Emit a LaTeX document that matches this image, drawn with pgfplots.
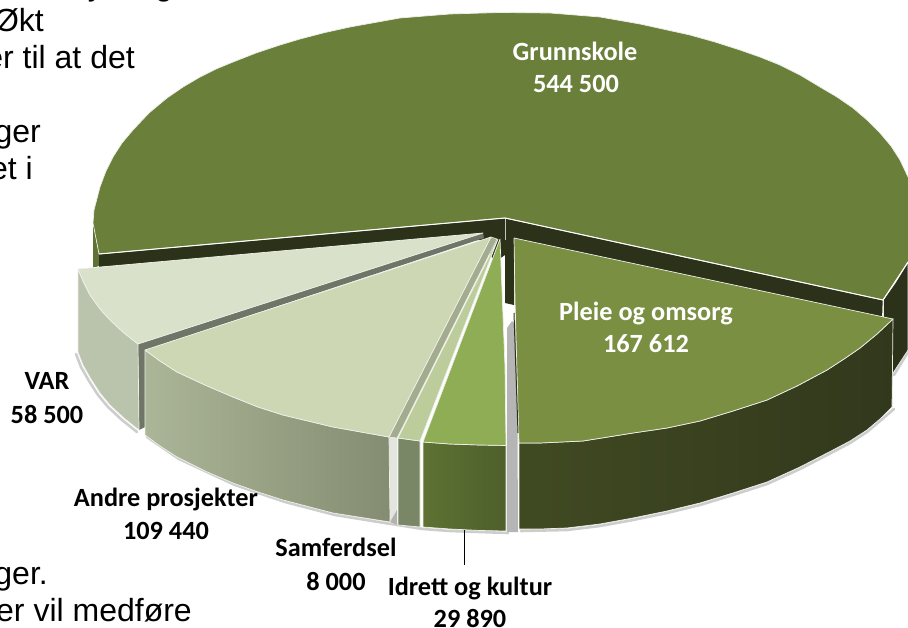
\documentclass[border=0pt]{standalone}
\usepackage{pgfplots}
\pgfplotsset{compat=1.18}
\usepackage{fontspec}
\setmainfont{Liberation Sans}
\newfontfamily\calfont{Carlito}
\definecolor{gtop}{HTML}{6A7F3A}
\definecolor{gside}{HTML}{5F7135}
\definecolor{dark}{HTML}{2C311A}
\definecolor{pltop}{HTML}{7A8F42}
\definecolor{plwall}{HTML}{32381C}
\definecolor{plwallb}{HTML}{404A22}
\definecolor{idtop}{HTML}{8FAD55}
\definecolor{idwalla}{HTML}{5D7233}
\definecolor{idwallb}{HTML}{4E5F2C}
\definecolor{satop}{HTML}{BCCD9B}
\definecolor{samwall}{HTML}{7A8766}
\definecolor{antop}{HTML}{CDD7B4}
\definecolor{anwalla}{HTML}{ABB597}
\definecolor{anwallb}{HTML}{848D71}
\definecolor{vatop}{HTML}{D9E1CA}
\definecolor{vawall}{HTML}{BAC3AC}
\definecolor{vacut}{HTML}{6F7667}
\definecolor{ancut}{HTML}{A3AC8F}
\definecolor{edge}{HTML}{EEF0E8}
\begin{document}
\begin{tikzpicture}[x=1pt,y=1pt,
  lab/.style={font=\calfont\bfseries\fontsize{26.3}{28}\selectfont,inner sep=0pt,anchor=base},
  txt/.style={font=\fontsize{32}{36}\selectfont,inner sep=0pt,anchor=base east,text=black},
  shadow/.style={draw=gray!65,line width=2.6pt,opacity=.6,line join=round,line cap=round},
  face/.style={fill=#1,draw=edge,line width=.7pt,line join=round}]
\path[use as bounding box,clip] (0,0) rectangle (908,628);
\begin{axis}[at={(0,0)},anchor=south west,scale only axis,width=908pt,height=628pt,
  xmin=0,xmax=908,ymin=0,ymax=628,y dir=reverse,hide axis,clip=false,no markers]
% shadows
\addplot[shadow] coordinates {(76,354)(81,367)(89,381)(98,395)(108,407)(122,420)(137,432)};
\addplot[shadow] coordinates {(147,437)(179,459)(235,485)(285,502)(335,515)(391,524)(423,529)(450,531)(480,532)(508,533)};
\addplot[shadow] coordinates {(521,531)(567,530)(600,526)(633,520)(667,513)(700,505)(733,495)(767,484)(800,469)(833,452)(850,443)(867,432)(880,421)(894,409)};
\addplot[shadow] coordinates {(894,375)(908,352)};
% vertical grey band behind the gap
\addplot[fill=gray!58,draw=none] coordinates {(507,328)(512,321)(517,326)(518,532)(507,532)(507,328)};
% Grunnskole side walls
\addplot[fill=gside,draw=none] coordinates {(93,223)(99,254)(99,266)(93,268)(93,223)};
\addplot[fill=dark,draw=none] coordinates {(99,254)(505,218)(883,300)(893,319)(893,340)(514,250)(514,305)(505,303)(505,255)(495,262)(480,240)(99,267)(99,254)};
\addplot[fill=dark,draw=edge,line width=.6pt] coordinates {(883,300)(895,283)(908,262)(908,350)(893,373)(880,385)(883,300)};
\addplot[draw=edge!60!gray,line width=.8pt] coordinates {(505,218)(505,240)};
% Grunnskole top
\addplot[face=gtop] coordinates {(99,254)(93,223)(94,210)(100,187)(106,171)(113,157)(122,143)(133,130)(149,113)(167,98)(183,87)(200,77)(216,69)(233,62)(256,53)(280,45)(300,39)(325,32.5)(350,27)(400,18)(450,14)(500,12.5)(550,13)(600,17)(640,24)(690,35)(715,42)(740,50)(760,57)(780,65)(800,75)(820,87)(837,97)(853,108)(867,120)(880,133)(891,146)(900,160)(908,177)(925,190)(925,250)(908,262)(895,283)(883,300)(505,218)(99,254)};
\addplot[draw=white,line width=1pt] coordinates {(505,218)(883,300)(908,262)};
\addplot[draw=white,line width=1pt] coordinates {(505,218)(99,254)};
% VAR
\addplot[fill=vacut,draw=none] coordinates {(138,344)(483,233)(484,238)(145,350)(145,427)(139,430)(138,344)};
\addplot[face=vawall] coordinates {(78,269)(83,281)(90,295)(100,309)(110,320)(124,333)(138,344)(139,430)(124,418)(110,405)(100,393)(91,379)(83,365)(78,352)(78,269)};
\addplot[face=vatop] coordinates {(78,269)(83,281)(90,295)(100,309)(110,320)(124,333)(138,344)(483,233)(78,269)};
% Andre prosjekter
\addplot[fill=ancut,draw=edge,line width=.5pt] coordinates {(491,237)(497,239)(397,438)(389,437)(491,237)};
\addplot[fill=edge!90!gray,draw=none] coordinates {(389,437)(397,438)(397,525)(389,522)(389,437)};
\addplot[fill=gray!60,draw=none] coordinates {(390,522)(397,510)(397,525)(390,522)};
\addplot[draw=edge,line width=.7pt,left color=anwalla,right color=anwallb] coordinates {(145,350)(160,361)(177,372)(205,385)(233,397)(258,407)(283,415)(333,427)(389,437)(390,522)(333,513)(283,500)(258,492)(233,483)(205,471)(177,457)(160,446)(145,435)(145,350)};
\addplot[face=antop] coordinates {(145,350)(160,361)(177,372)(205,385)(233,397)(258,407)(283,415)(333,427)(389,437)(491,237)(145,350)};
% Samferdsel
\addplot[face=samwall] coordinates {(398,438)(420,441)(420,527)(398,525)(398,438)};
\addplot[face=satop] coordinates {(498,239)(398,438)(420,441)(498,239)};
% Idrett
\addplot[draw=edge,line width=.7pt,left color=idwalla,right color=idwallb] coordinates {(423,442)(450,444)(480,445)(506,445.5)(506,531)(480,530.5)(450,529)(423,527)(423,442)};
\addplot[face=idtop] coordinates {(500,239)(423,442)(450,444)(480,445)(506,445.5)(505,367)(500,239)};
% Pleie
\addplot[draw=edge,line width=.7pt,left color=plwallb,right color=plwall] coordinates {(519,443)(540,443)(583,441)(633,433)(667,428)(700,421)(733,411)(767,400)(797,386)(827,370)(844,359)(860,348)(877,334)(893,319)(892,407)(880,419)(867,430)(850,441)(833,450)(800,467)(767,482)(733,493)(700,503)(667,511)(633,518)(600,524)(567,528)(540,529)(519,529)(519,443)};
\addplot[face=pltop] coordinates {(514,238)(515,300)(519,443)(540,443)(583,441)(633,433)(667,428)(700,421)(733,411)(767,400)(797,386)(827,370)(844,359)(860,348)(877,334)(893,319)(514,238)};
\addplot[draw=dark,line width=1pt] coordinates {(514,313)(518,433)};
\addplot[draw=edge,line width=.7pt] coordinates {(883,300)(883,317)};
% leader
\addplot[draw=black,line width=1pt] coordinates {(464,530)(464,565)};
% labels
\node[lab,text=white] at (axis cs:575,61) {Grunnskole};
\node[lab,text=white] at (axis cs:576,93) {544 500};
\node[lab,text=white] at (axis cs:646,321) {Pleie og omsorg};
\node[lab,text=white] at (axis cs:646,353) {167 612};
\node[lab,text=black] at (axis cs:47,389) {VAR};
\node[lab,text=black] at (axis cs:47,423) {58 500};
\node[lab,text=black] at (axis cs:166,506) {Andre prosjekter};
\node[lab,text=black] at (axis cs:166,539) {109 440};
\node[lab,text=black] at (axis cs:336,556) {Samferdsel};
\node[lab,text=black] at (axis cs:336,590) {8 000};
\node[lab,text=black] at (axis cs:470,595) {Idrett og kultur};
\node[lab,text=black] at (axis cs:470,627) {29 890};
% clipped body text
\node[txt] at (axis cs:44,32) {Økt};
\node[txt] at (axis cs:135,69) {er til at det};
\node[txt] at (axis cs:41,143) {ger};
\node[txt] at (axis cs:33,180) {et i};
\node[txt] at (axis cs:48,584) {ger.};
\node[txt] at (axis cs:192,621) {er vil medføre};
\node[txt] at (axis cs:104,-4) {y};
\node[txt] at (axis cs:173,-4) {g};
\end{axis}
\end{tikzpicture}
\end{document}
